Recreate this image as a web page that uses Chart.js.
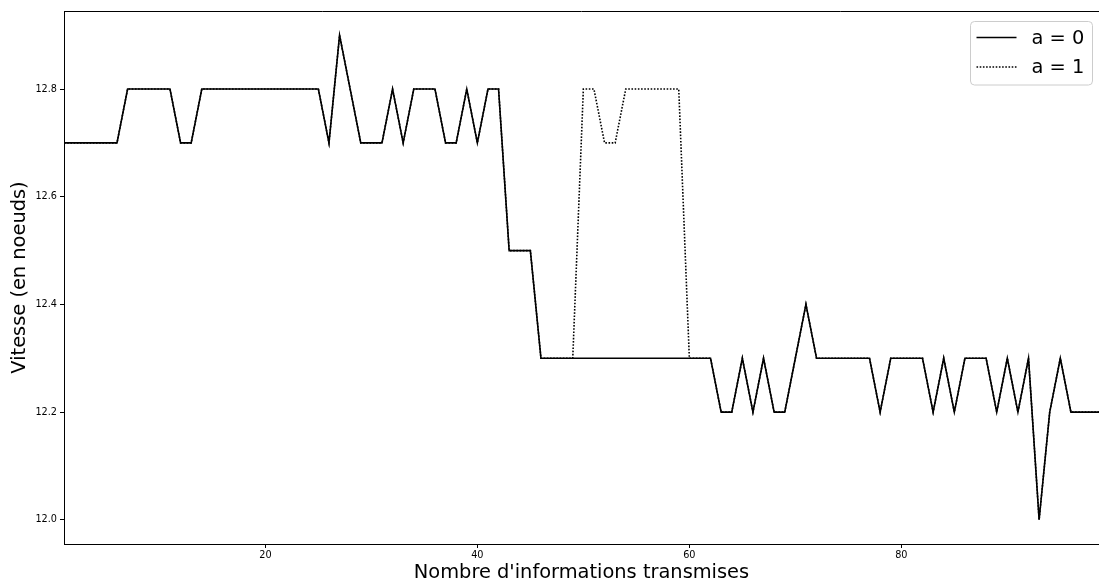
<!DOCTYPE html>
<html><head><meta charset="utf-8">
<script src="https://cdn.jsdelivr.net/npm/chart.js@4.4.0/dist/chart.umd.min.js"></script>
<style>html,body{margin:0;padding:0;background:#fff;overflow:hidden}</style>
</head><body><canvas id="c" width="1099" height="583"></canvas>
<script>
const xValues = [1,2,3,4,5,6,7,8,9,10,11,12,13,14,15,16,17,18,19,20,21,22,23,24,25,26,27,28,29,30,31,32,33,34,35,36,37,38,39,40,41,42,43,44,45,46,47,48,49,50,51,52,53,54,55,56,57,58,59,60,61,62,63,64,65,66,67,68,69,70,71,72,73,74,75,76,77,78,79,80,81,82,83,84,85,86,87,88,89,90,91,92,93,94,95,96,97,98,99];
const seriesA0 = [
 12.7,12.7,12.7,12.7,12.7,12.7,12.8,12.8,12.8,12.8,
 12.8,12.7,12.7,12.8,12.8,12.8,12.8,12.8,12.8,12.8,
 12.8,12.8,12.8,12.8,12.8,12.7,12.9,12.8,12.7,12.7,
 12.7,12.8,12.7,12.8,12.8,12.8,12.7,12.7,12.8,12.7,
 12.8,12.8,12.5,12.5,12.5,12.3,12.3,12.3,12.3,12.3,
 12.3,12.3,12.3,12.3,12.3,12.3,12.3,12.3,12.3,12.3,
 12.3,12.3,12.2,12.2,12.3,12.2,12.3,12.2,12.2,12.3,
 12.4,12.3,12.3,12.3,12.3,12.3,12.3,12.2,12.3,12.3,
 12.3,12.3,12.2,12.3,12.2,12.3,12.3,12.3,12.2,12.3,
 12.2,12.3,12.0,12.2,12.3,12.2,12.2,12.2,12.2];
const seriesA1 = [
 12.7,12.7,12.7,12.7,12.7,12.7,12.8,12.8,12.8,12.8,
 12.8,12.7,12.7,12.8,12.8,12.8,12.8,12.8,12.8,12.8,
 12.8,12.8,12.8,12.8,12.8,12.7,12.9,12.8,12.7,12.7,
 12.7,12.8,12.7,12.8,12.8,12.8,12.7,12.7,12.8,12.7,
 12.8,12.8,12.5,12.5,12.5,12.3,12.3,12.3,12.3,12.8,
 12.8,12.7,12.7,12.8,12.8,12.8,12.8,12.8,12.8,12.3,
 12.3,12.3,12.2,12.2,12.3,12.2,12.3,12.2,12.2,12.3,
 12.4,12.3,12.3,12.3,12.3,12.3,12.3,12.2,12.3,12.3,
 12.3,12.3,12.2,12.3,12.2,12.3,12.3,12.3,12.2,12.3,
 12.2,12.3,12.0,12.2,12.3,12.2,12.2,12.2,12.2];
const seriesLabels = ['a = 0', 'a = 1'];
const xTicks = [20, 40, 60, 80];
const yTicks = [12.0, 12.2, 12.4, 12.6, 12.8];
const xTitle = "Nombre d'informations transmises";
const yTitle = "Vitesse (en noeuds)";

const FONT = 'DejaVu Sans';
const toPts = ys => ys.map((y, i) => ({x: xValues[i], y}));

const framePlugin = {
  id: 'frame',
  afterDraw(chart) {
    const {ctx, chartArea: a} = chart;
    ctx.save();
    ctx.strokeStyle = '#000';
    ctx.lineWidth = 1;
    ctx.beginPath();
    ctx.moveTo(a.left, a.top + 0.5);
    ctx.lineTo(a.right, a.top + 0.5);
    ctx.stroke();
    // legend
    const bx = a.right - 128.5, by = a.top + 10.5, bw = 122, bh = 63.5, r = 4;
    ctx.beginPath();
    ctx.roundRect(bx, by, bw, bh, r);
    ctx.fillStyle = 'rgba(255,255,255,0.8)';
    ctx.fill();
    ctx.strokeStyle = '#cccccc';
    ctx.stroke();
    ctx.font = '19.4px "' + FONT + '"';
    ctx.textBaseline = 'middle';
    ctx.fillStyle = '#000';
    chart.data.datasets.forEach((ds, i) => {
      const y = by + 16 + i * 29.5;
      ctx.beginPath();
      ctx.strokeStyle = ds.borderColor;
      ctx.lineWidth = ds.borderWidth;
      ctx.setLineDash(ds.borderDash || []);
      ctx.moveTo(bx + 6, y);
      ctx.lineTo(bx + 46, y);
      ctx.stroke();
      ctx.setLineDash([]);
      ctx.fillText(ds.label, bx + 61, y + 1);
    });
    ctx.restore();
  }
};

new Chart(document.getElementById('c'), {
  type: 'line',
  data: {
    datasets: [
      {label: seriesLabels[0], data: toPts(seriesA0), borderColor: '#000', borderWidth: 1.6, pointRadius: 0, tension: 0, fill: false},
      {label: seriesLabels[1], data: toPts(seriesA1), borderColor: '#000', borderWidth: 1.6, borderDash: [1.6, 1.6], pointRadius: 0, tension: 0, fill: false}
    ]
  },
  options: {
    responsive: false,
    animation: false,
    devicePixelRatio: 1,
    layout: {padding: {top: 11, right: 0, left: 0, bottom: 0}},
    plugins: {legend: {display: false}, tooltip: {enabled: false}},
    scales: {
      x: {
        type: 'linear', min: 1, max: 98.65,
        afterBuildTicks: ax => { ax.ticks = xTicks.map(v => ({value: v})); },
        afterFit: ax => { ax.height = 39; },
        grid: {display: true, drawOnChartArea: false, drawTicks: true, tickLength: 4, color: '#000'},
        border: {display: true, color: '#000', width: 1},
        ticks: {color: '#000', font: {family: FONT, size: 9.7}, padding: 2, maxRotation: 0, callback: v => String(v)},
        title: {display: true, text: xTitle, color: '#000', font: {family: FONT, size: 19.4}, padding: {top: 0, bottom: -2}}
      },
      y: {
        type: 'linear', min: 11.955, max: 12.945,
        afterBuildTicks: ax => { ax.ticks = yTicks.map(v => ({value: v})); },
        afterFit: ax => { ax.width = 64; },
        grid: {display: true, drawOnChartArea: false, drawTicks: true, tickLength: 4, color: '#000'},
        border: {display: true, color: '#000', width: 1},
        ticks: {color: '#000', font: {family: FONT, size: 9.7}, padding: 3, callback: v => Number(v).toFixed(1)},
        title: {display: true, text: yTitle, color: '#000', font: {family: FONT, size: 19.4}, padding: {top: 8.5, bottom: 0}}
      }
    }
  },
  plugins: [framePlugin]
});
</script>
</body></html>
